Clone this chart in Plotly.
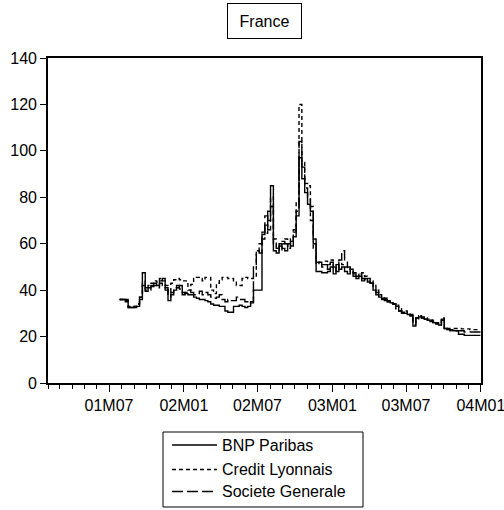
import pandas as pd
import plotly.graph_objects as go

# Weekly observation dates (Fridays), plus the last trading day of 2003
dates = list(pd.date_range("2001-07-27", "2003-12-26", freq="7D")) + [pd.Timestamp("2003-12-31")]

bnp_paribas = [
    36, 36, 36, 32.5, 32.5, 32.5, 33, 36, 47.5, 39.5,
    41, 42, 43, 42, 44, 45, 41, 35.5, 38, 40,
    41, 42, 39, 38.5, 38, 38, 37, 36.5, 36, 36,
    35.5, 35, 34, 33.5, 33.5, 33, 33, 31, 30.5, 30.5,
    33, 33, 33.5, 33, 32.5, 33, 34.5, 40, 40, 40,
    64, 68, 74, 85, 57, 56, 60, 58, 57, 60,
    59, 63, 72, 97, 88, 82, 77, 74, 62, 48,
    48, 47.5, 47.5, 48, 50, 47, 51, 49, 50, 48,
    47, 49, 46, 45, 46, 44, 45, 43.5, 43, 40,
    38, 37, 36, 36, 35, 34.5, 34, 33, 31, 30,
    30, 29.5, 29, 24.5, 28, 28.5, 28, 27.5, 27, 26.5,
    26, 25.5, 25, 27.5, 23.5, 23, 23, 22.5, 22.5, 21,
    21, 20.5, 20.5, 20.5, 20.5, 20.5, 20.5, 20.5,
]

credit_lyonnais = [
    36, 35.5, 35.5, 33, 33, 33, 34, 37, 42, 40,
    42, 43, 44, 43.5, 45, 44, 42, 39, 43, 44.5,
    45, 44.5, 44, 44, 40, 42.5, 45, 45.5, 45, 44,
    45.5, 45.5, 40, 38.5, 43, 44.5, 45.5, 45.5, 45, 45,
    44, 42, 42, 45, 45.5, 45, 45, 45.5, 57, 60,
    65, 64.5, 70, 80, 62, 58, 57, 60, 62, 58,
    62, 66, 78, 120, 95, 86, 85, 70, 58, 52,
    52, 51, 52.5, 51, 53, 49, 50, 52, 51, 50,
    49, 48, 47.5, 47, 46, 47.5, 46, 45, 44, 42,
    40, 38, 37, 36.5, 35.5, 35, 34, 33.5, 32, 31,
    31, 30, 29.5, 26, 27.5, 29, 28.5, 28, 27.5, 27,
    26.5, 26, 25.5, 28, 24, 23.5, 23.5, 23.5, 23.5, 23.5,
    23.3, 23.3, 23.3, 23, 23, 23, 23, 23,
]

societe_generale = [
    36, 36, 35, 32.5, 32.5, 33, 34, 37, 44, 41,
    40, 41.5, 42, 41, 43, 42, 40, 37, 39, 41,
    42, 40.5, 38, 39, 40, 39, 38, 38.5, 39.5, 38,
    39, 38, 37, 36.5, 37, 38, 36, 35, 36, 35.5,
    35.5, 37, 36, 36, 35, 34, 35, 50, 57, 56,
    62, 72, 66, 76, 59, 58, 59, 61, 60, 59,
    61, 65, 74, 104, 93, 84, 80, 76, 60, 51,
    52, 50, 51, 49, 52, 50, 48, 53, 57, 52,
    50, 48.5, 47, 46, 47, 45, 44.5, 44, 43, 41,
    39, 37, 36.5, 35.5, 35, 34.5, 34, 32, 31, 30.5,
    30, 29.5, 29, 25, 28, 29, 28, 27.5, 27.5, 27,
    26, 25.5, 25, 27, 23.5, 23, 22.5, 22.5, 22.5, 22.5,
    22.5, 22, 22, 22, 22, 22, 22, 22,
]

tick_dates = ["2001-07-01", "2002-01-01", "2002-07-01", "2003-01-01", "2003-07-01", "2004-01-01"]
tick_labels = ["01M07", "02M01", "02M07", "03M01", "03M07", "04M01"]

series = [
    ("BNP Paribas", bnp_paribas, "solid"),
    ("Credit Lyonnais", credit_lyonnais, "4px,3px"),
    ("Societe Generale", societe_generale, "11px,4px"),
]

FONT = "Liberation Sans, Arial, sans-serif"

fig = go.Figure()
for name, values, dash in series:
    fig.add_trace(go.Scatter(
        x=dates, y=values, name=name, mode="lines", showlegend=False,
        line=dict(color="black", width=1.4, dash=dash, shape="hv"),
    ))

# Boxed key below the plot: one line sample and label per series
key_box = dict(x0=0.2656, x1=0.7275, y0=-0.3815, y1=-0.1508)
key_rows = [-0.1908, -0.2662, -0.3338]
key_line_x = (0.2864, 0.3903)
key_text_x = 0.3972

shapes = [dict(type="rect", xref="paper", yref="paper", line=dict(color="black", width=1),
               fillcolor="white", layer="above", **key_box)]
annotations = [dict(
    text="France", xref="paper", yref="paper", x=0.501, y=1.114,
    xanchor="center", yanchor="middle", showarrow=False,
    font=dict(size=16), bordercolor="black", borderwidth=1,
    borderpad=1, width=71, height=32,
)]
for (name, _, dash), ky in zip(series, key_rows):
    shapes.append(dict(type="line", xref="paper", yref="paper",
                       x0=key_line_x[0], x1=key_line_x[1], y0=ky, y1=ky,
                       line=dict(color="black", width=1.4, dash=dash)))
    annotations.append(dict(text=name, xref="paper", yref="paper", x=key_text_x, y=ky,
                            xanchor="left", yanchor="middle", showarrow=False,
                            font=dict(size=16)))

fig.update_layout(
    width=504, height=510,
    margin=dict(l=48, r=23, t=58, b=127, autoexpand=False),
    paper_bgcolor="white", plot_bgcolor="white",
    font=dict(family=FONT, size=16, color="black"),
    shapes=shapes, annotations=annotations,
)

fig.update_xaxes(
    type="date", range=["2001-02-01", "2004-01-01 08:00"],
    tickmode="array", tickvals=tick_dates, ticktext=tick_labels,
    ticklabeloverflow="allow", automargin=False,
    ticks="outside", ticklen=7, tickwidth=1.3, tickcolor="black",
    minor=dict(ticks="outside", ticklen=4, tickwidth=1.3, tickcolor="black",
               dtick="M1", tick0="2001-01-01", showgrid=False),
    showline=True, linecolor="black", linewidth=1.6, mirror=True,
    showgrid=False, zeroline=False,
)
fig.update_yaxes(
    range=[0, 140], dtick=20, tick0=0, automargin=False,
    ticks="outside", ticklen=6, tickwidth=1.3, tickcolor="black",
    showline=True, linecolor="black", linewidth=1.6, mirror=True,
    showgrid=False, zeroline=False,
)

fig.write_html("out.html")
